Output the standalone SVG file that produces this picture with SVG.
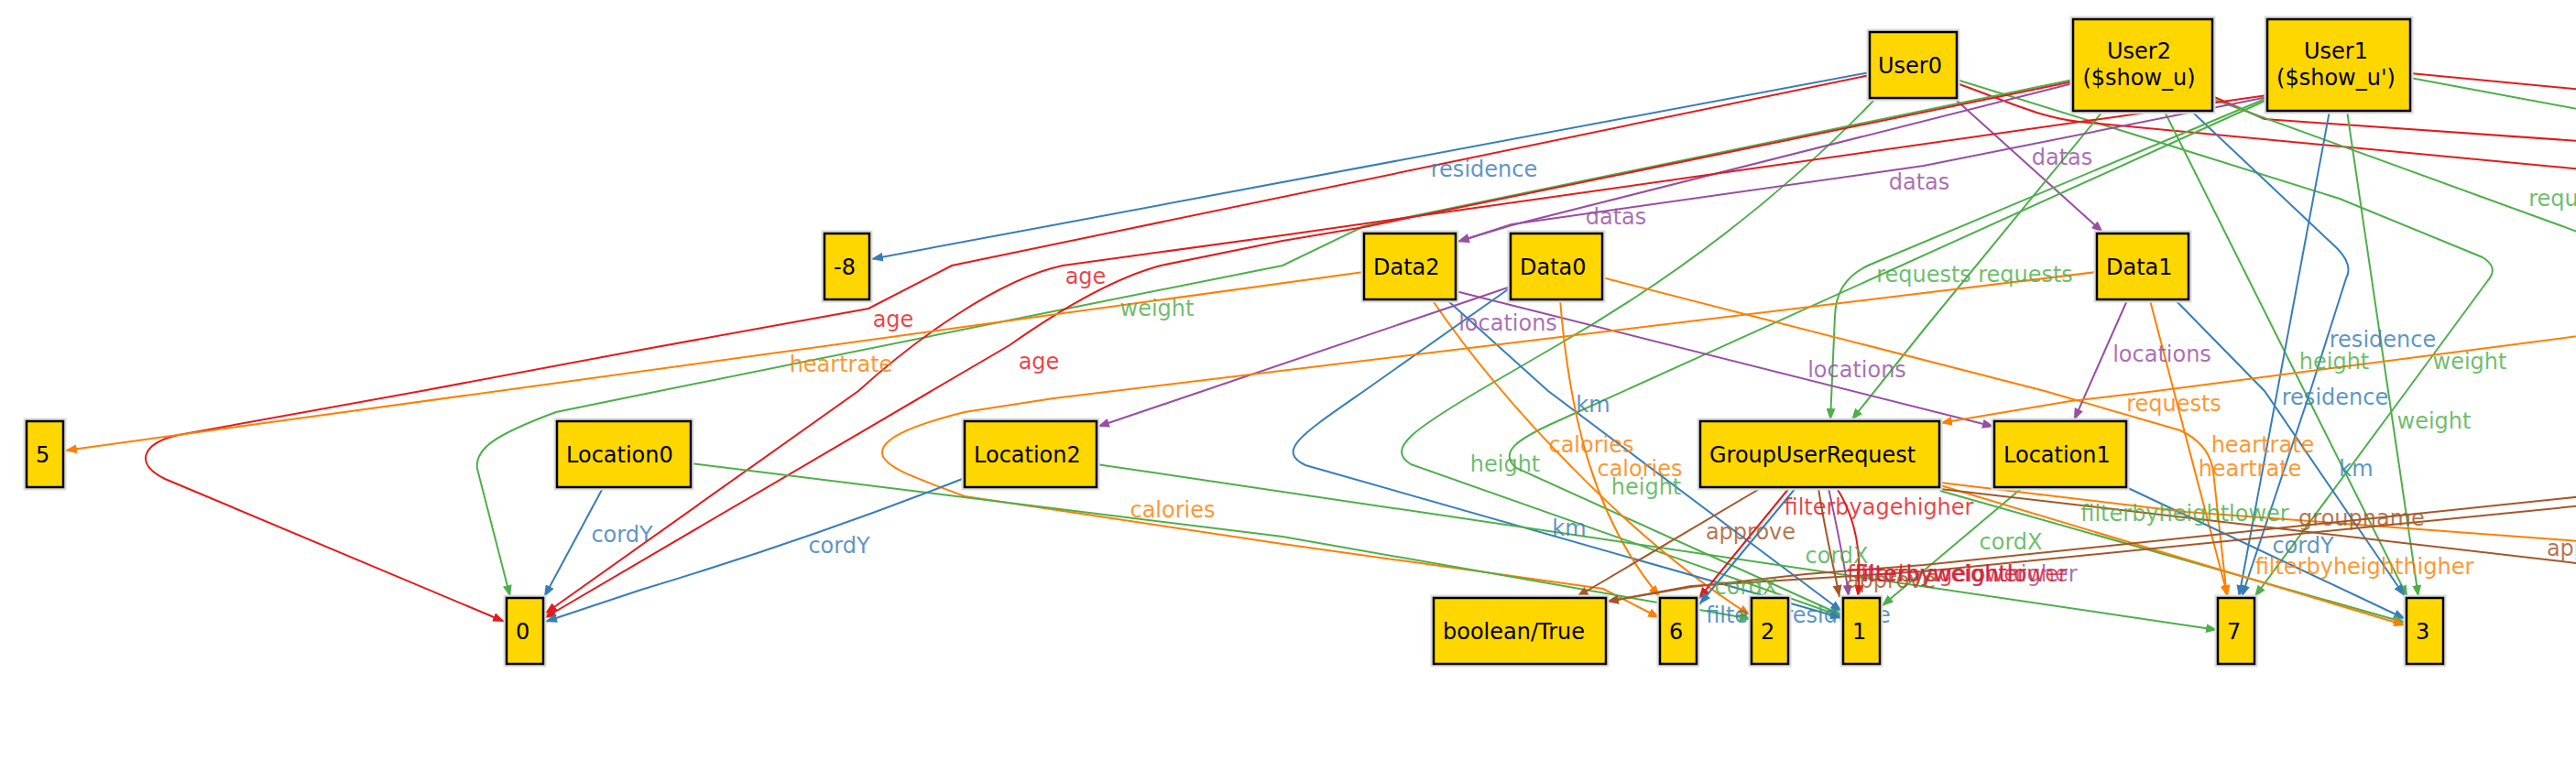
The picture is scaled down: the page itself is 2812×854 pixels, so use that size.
<svg xmlns="http://www.w3.org/2000/svg" width="2812" height="854" viewBox="0 0 2812 854">
<style>
text{font-family:"DejaVu Sans","Liberation Sans",sans-serif;font-size:24px}
.e{fill:none;stroke-width:2}
.r{stroke:#e41a1c}.b{stroke:#377eb8}.g{stroke:#4daf4a}.p{stroke:#984ea3}.o{stroke:#ff7f00}.n{stroke:#a65628}
.lr{fill:#e41a1c}.lb{fill:#377eb8}.lg{fill:#4daf4a}.lp{fill:#984ea3}.lo{fill:#ff7f00}.ln{fill:#a65628}
.lbl text{text-anchor:middle;fill-opacity:0.82}
.halo{fill:none;stroke:#dcdcdc;stroke-width:7}
.box{fill:#ffd700;stroke:#000;stroke-width:2.5}
.nt{fill:#000}
</style>
<defs>
<marker id="ar" markerUnits="userSpaceOnUse" markerWidth="14" markerHeight="10" refX="13" refY="5" orient="auto"><path d="M0,0 L13,5 L0,10 z" fill="#e41a1c"/></marker>
<marker id="ab" markerUnits="userSpaceOnUse" markerWidth="14" markerHeight="10" refX="13" refY="5" orient="auto"><path d="M0,0 L13,5 L0,10 z" fill="#377eb8"/></marker>
<marker id="ag" markerUnits="userSpaceOnUse" markerWidth="14" markerHeight="10" refX="13" refY="5" orient="auto"><path d="M0,0 L13,5 L0,10 z" fill="#4daf4a"/></marker>
<marker id="ap" markerUnits="userSpaceOnUse" markerWidth="14" markerHeight="10" refX="13" refY="5" orient="auto"><path d="M0,0 L13,5 L0,10 z" fill="#984ea3"/></marker>
<marker id="ao" markerUnits="userSpaceOnUse" markerWidth="14" markerHeight="10" refX="13" refY="5" orient="auto"><path d="M0,0 L13,5 L0,10 z" fill="#ff7f00"/></marker>
<marker id="an" markerUnits="userSpaceOnUse" markerWidth="14" markerHeight="10" refX="13" refY="5" orient="auto"><path d="M0,0 L13,5 L0,10 z" fill="#a65628"/></marker>
</defs>
<rect width="2812" height="854" fill="#fff"/>
<g id="connectors">
<path class="e b" marker-end="url(#ab)" d="M2041,79 L951,283"/>
<path class="e r" marker-end="url(#ar)" d="M2041,82 L1039,290 L948,337 L700,382 L460,427 L195,475 C155,484 146,506 180,523 L551,679"/>
<path class="e p" marker-end="url(#ap)" d="M2134,108 L2296,254"/>
<path class="e g" marker-end="url(#ag)" d="M2047,108 Q1900,262 1700,377 L1614,427 C1545,468 1512,490 1540,507 L2010,673"/>
<path class="e g" marker-end="url(#ag)" d="M2136,87 L2372,160 L2554,217 L2710,281 Q2728,292 2716,306 L2627,427 L2461,652"/>
<path class="e r" d="M2136,91 C2190,110 2225,128 2270,133 L2830,186"/>
<path class="e g" marker-end="url(#ag)" d="M2263,87 L1489,247 L1400,290 L1150,340 L700,431 L607,450 C540,475 518,490 521,512 L557,652"/>
<path class="e r" marker-end="url(#ar)" d="M2263,89 L1489,248 L1400,263 L1267,290 Q1200,308 1102,377 L594,675"/>
<path class="e p" marker-end="url(#ap)" d="M2263,91 L1650,246 L1591,264"/>
<path class="e g" marker-end="url(#ag)" d="M2295,122 L2100,360 L2021,459"/>
<path class="e g" marker-end="url(#ag)" d="M2363,122 L2628,652"/>
<path class="e b" marker-end="url(#ab)" d="M2393,122 L2552,272 Q2569,290 2561,304 L2522,427 L2447,652"/>
<path class="e r" d="M2415,105 L2472,130 L2830,155"/>
<path class="e g" d="M2415,108 L2830,259"/>
<path class="e r" marker-end="url(#ar)" d="M2475,104 L1400,257 L1160,290 C1090,305 1000,370 937,427 L595,670"/>
<path class="e p" marker-end="url(#ap)" d="M2475,106 L2100,181 L1650,245 L1591,264"/>
<path class="e g" marker-end="url(#ag)" d="M2475,107 L2039,290 C2012,303 2004,322 2003,345 L1998,459"/>
<path class="e g" marker-end="url(#ag)" d="M2475,109 L1700,460 C1655,480 1636,494 1655,511 L2011,672"/>
<path class="e b" marker-end="url(#ab)" d="M2543,121 L2444,652"/>
<path class="e g" marker-end="url(#ag)" d="M2562,121 L2640,652"/>
<path class="e r" d="M2631,80 L2830,99"/>
<path class="e g" d="M2631,85 L2830,122"/>
<path class="e o" marker-end="url(#ao)" d="M1489,297 L71,492"/>
<path class="e o" marker-end="url(#ao)" d="M1563,327 C1640,440 1780,590 1911,672"/>
<path class="e b" marker-end="url(#ab)" d="M1579,327 L1690,427 L2011,668"/>
<path class="e p" marker-end="url(#ap)" d="M1589,318 L2177,466"/>
<path class="e p" marker-end="url(#ap)" d="M1649,313 L1198,466"/>
<path class="e b" marker-end="url(#ab)" d="M1649,314 L1489,427 C1420,475 1393,492 1425,508 L2011,675"/>
<path class="e o" marker-end="url(#ao)" d="M1703,327 C1712,440 1735,560 1812,652"/>
<path class="e o" marker-end="url(#ao)" d="M1749,303 L2232,427 L2380,470 Q2412,485 2416,515 L2431,652"/>
<path class="e o" marker-end="url(#ao)" d="M2289,297 L1150,435 L1053,450 C990,466 962,480 963,495 C964,510 1000,522 1053,542 L1400,594 L1750,643 L1812,675"/>
<path class="e p" marker-end="url(#ap)" d="M2322,328 L2264,459"/>
<path class="e o" marker-end="url(#ao)" d="M2347,328 L2432,652"/>
<path class="e b" marker-end="url(#ab)" d="M2375,328 L2472,427 L2625,651"/>
<path class="e b" marker-end="url(#ab)" d="M658,533 L594,652"/>
<path class="e g" marker-end="url(#ag)" d="M754,506 L1400,586 L1912,676"/>
<path class="e b" marker-end="url(#ab)" d="M1053,522 Q880,590 700,644 L595,679"/>
<path class="e g" marker-end="url(#ag)" d="M1197,507 L2421,688"/>
<path class="e g" marker-end="url(#ag)" d="M2207,533 L2054,662"/>
<path class="e b" marker-end="url(#ab)" d="M2321,532 L2626,676"/>
<path class="e n" marker-end="url(#an)" d="M1922,533 L1721,652"/>
<path class="e r" marker-end="url(#ar)" d="M1953,533 L1854,654"/>
<path class="e b" marker-end="url(#ab)" d="M1960,533 L1855,660"/>
<path class="e n" marker-end="url(#an)" d="M1985,533 C1992,580 2002,620 2008,652"/>
<path class="e p" marker-end="url(#ap)" d="M1996,533 C2006,580 2015,620 2018,652"/>
<path class="e r" marker-end="url(#ar)" d="M2005,533 C2030,572 2032,615 2028,652"/>
<path class="e g" marker-end="url(#ag)" d="M2118,536 L2626,680"/>
<path class="e o" marker-end="url(#ao)" d="M2118,530 L2626,683"/>
<path class="e o" d="M2118,527 L2386,559 L2830,592"/>
<path class="e n" d="M2118,534 L2830,617"/>
<path class="e o" marker-end="url(#ao)" d="M2830,365 L2354,427 L2260,438 L2118,462"/>
<path class="e n" marker-end="url(#an)" d="M2830,551 L2100,624 L1846,640 L1754,657"/>
<path class="e n" marker-end="url(#an)" d="M2830,541 L2100,617 L1971,627 L1846,641 L1754,657"/>
</g>
<g id="labels" class="lbl">
<text class="lb" x="1620" y="193">residence</text>
<text class="lr" x="975" y="357">age</text>
<text class="lp" x="2251" y="180">datas</text>
<text class="lg" x="2100" y="308">requests</text>
<text class="lg" x="2211" y="308">requests</text>
<text class="lp" x="2095" y="207">datas</text>
<text class="lp" x="1764" y="245">datas</text>
<text class="lr" x="1185" y="310">age</text>
<text class="lr" x="1134" y="403">age</text>
<text class="lg" x="1263" y="345">weight</text>
<text class="lo" x="918" y="406">heartrate</text>
<text class="lp" x="1646" y="361">locations</text>
<text class="lp" x="2027" y="412">locations</text>
<text class="lp" x="2360" y="395">locations</text>
<text class="lb" x="2601" y="379">residence</text>
<text class="lb" x="2549" y="442">residence</text>
<text class="lg" x="2548" y="403">height</text>
<text class="lg" x="2696" y="403">weight</text>
<text class="lg" x="2657" y="468">weight</text>
<text class="lg" x="2812" y="225">requests</text>
<text class="lo" x="2373" y="449">requests</text>
<text class="lo" x="2470" y="494">heartrate</text>
<text class="lo" x="2456" y="520">heartrate</text>
<text class="lb" x="2572" y="520">km</text>
<text class="lb" x="1739" y="450">km</text>
<text class="lb" x="1713" y="585">km</text>
<text class="lo" x="1737" y="494">calories</text>
<text class="lo" x="1790" y="520">calories</text>
<text class="lo" x="1280" y="565">calories</text>
<text class="lg" x="1643" y="515">height</text>
<text class="lg" x="1797" y="540">height</text>
<text class="lb" x="679" y="592">cordY</text>
<text class="lb" x="916" y="604">cordY</text>
<text class="lb" x="2514" y="604">cordY</text>
<text class="lg" x="1906" y="649">cordX</text>
<text class="lg" x="2005" y="615">cordX</text>
<text class="lg" x="2195" y="600">cordX</text>
<text class="ln" x="1911" y="589">approve</text>
<text class="lr" x="2051" y="562">filterbyagehigher</text>
<text class="lb" x="1963" y="680">filterbyresidence</text>
<text class="lg" x="2385" y="569">filterbyheightlower</text>
<text class="ln" x="2578" y="574">groupname</text>
<text class="lo" x="2581" y="627">filterbyheighthigher</text>
<text class="ln" x="2829" y="607">approve</text>
<text class="lr" x="2114" y="635">filterbyagelower</text>
<text class="lp" x="2146" y="635">filterbyweighthigher</text>
<text class="lr" x="2141" y="635">filterbyweightlower</text>
<text class="ln" x="2064" y="642">approve</text>
</g>
<g id="User0"><rect class="halo" x="2041" y="35" width="95" height="72"/><rect class="box" x="2041" y="35" width="95" height="72"/><text class="nt" x="2050" y="80">User0</text></g>
<g id="User2"><rect class="halo" x="2263" y="21" width="152" height="100"/><rect class="box" x="2263" y="21" width="152" height="100"/><text class="nt" x="2335" y="64" text-anchor="middle">User2</text><text class="nt" x="2335" y="93" text-anchor="middle">($show_u)</text></g>
<g id="User1"><rect class="halo" x="2475" y="21" width="156" height="100"/><rect class="box" x="2475" y="21" width="156" height="100"/><text class="nt" x="2550" y="64" text-anchor="middle">User1</text><text class="nt" x="2550" y="93" text-anchor="middle">($show_u')</text></g>
<g id="n-8"><rect class="halo" x="900" y="255" width="49" height="72"/><rect class="box" x="900" y="255" width="49" height="72"/><text class="nt" x="910" y="300">-8</text></g>
<g id="Data2"><rect class="halo" x="1489" y="255" width="100" height="72"/><rect class="box" x="1489" y="255" width="100" height="72"/><text class="nt" x="1499" y="300">Data2</text></g>
<g id="Data0"><rect class="halo" x="1649" y="255" width="100" height="72"/><rect class="box" x="1649" y="255" width="100" height="72"/><text class="nt" x="1659" y="300">Data0</text></g>
<g id="Data1"><rect class="halo" x="2289" y="255" width="100" height="72"/><rect class="box" x="2289" y="255" width="100" height="72"/><text class="nt" x="2299" y="300">Data1</text></g>
<g id="n5"><rect class="halo" x="29" y="460" width="40" height="72"/><rect class="box" x="29" y="460" width="40" height="72"/><text class="nt" x="39" y="505">5</text></g>
<g id="Location0"><rect class="halo" x="608" y="460" width="146" height="72"/><rect class="box" x="608" y="460" width="146" height="72"/><text class="nt" x="618" y="505">Location0</text></g>
<g id="Location2"><rect class="halo" x="1053" y="460" width="144" height="72"/><rect class="box" x="1053" y="460" width="144" height="72"/><text class="nt" x="1063" y="505">Location2</text></g>
<g id="GroupUserRequest"><rect class="halo" x="1856" y="460" width="261" height="72"/><rect class="box" x="1856" y="460" width="261" height="72"/><text class="nt" x="1866" y="505">GroupUserRequest</text></g>
<g id="Location1"><rect class="halo" x="2177" y="460" width="144" height="72"/><rect class="box" x="2177" y="460" width="144" height="72"/><text class="nt" x="2187" y="505">Location1</text></g>
<g id="n0"><rect class="halo" x="553" y="653" width="40" height="72"/><rect class="box" x="553" y="653" width="40" height="72"/><text class="nt" x="563" y="698">0</text></g>
<g id="booleanTrue"><rect class="halo" x="1565" y="653" width="188" height="72"/><rect class="box" x="1565" y="653" width="188" height="72"/><text class="nt" x="1575" y="698">boolean/True</text></g>
<g id="n6"><rect class="halo" x="1812" y="653" width="40" height="72"/><rect class="box" x="1812" y="653" width="40" height="72"/><text class="nt" x="1822" y="698">6</text></g>
<g id="n2"><rect class="halo" x="1912" y="653" width="40" height="72"/><rect class="box" x="1912" y="653" width="40" height="72"/><text class="nt" x="1922" y="698">2</text></g>
<g id="n1"><rect class="halo" x="2012" y="653" width="40" height="72"/><rect class="box" x="2012" y="653" width="40" height="72"/><text class="nt" x="2022" y="698">1</text></g>
<g id="n7"><rect class="halo" x="2421" y="653" width="40" height="72"/><rect class="box" x="2421" y="653" width="40" height="72"/><text class="nt" x="2431" y="698">7</text></g>
<g id="n3"><rect class="halo" x="2627" y="653" width="40" height="72"/><rect class="box" x="2627" y="653" width="40" height="72"/><text class="nt" x="2637" y="698">3</text></g>
</svg>
